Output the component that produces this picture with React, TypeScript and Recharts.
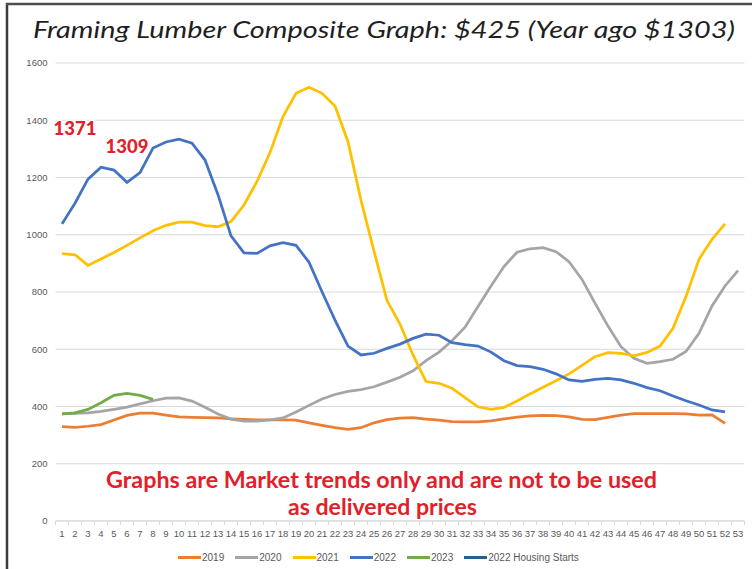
import { LineChart, Line, XAxis, YAxis, CartesianGrid, Legend, ReferenceDot } from 'recharts'

const weeks = [
  1, 2, 3, 4, 5, 6, 7, 8, 9, 10, 11, 12, 13, 14, 15, 16, 17, 18, 19, 20, 21, 22, 23, 24, 25, 26,
  27, 28, 29, 30, 31, 32, 33, 34, 35, 36, 37, 38, 39, 40, 41, 42, 43, 44, 45, 46, 47, 48, 49, 50,
  51, 52, 53,
]

const yTicks = [0, 200, 400, 600, 800, 1000, 1200, 1400, 1600]

const prices2019 = [
  330, 327, 331, 337, 353, 369, 377, 377, 370, 364, 362, 361, 360, 357, 355, 353, 353, 353, 352,
  343, 334, 326, 320, 326, 343, 354, 359, 361, 356, 352, 347, 346, 346, 350, 357, 363, 367, 369,
  368, 364, 355, 354, 362, 370, 375, 375, 375, 375, 374, 370, 371, 341,
]

const prices2020 = [
  374, 376, 378, 383, 390, 398, 409, 420, 429, 430, 419, 397, 374, 356, 349, 349, 353, 360, 381,
  404, 426, 442, 453, 459, 469, 485, 502, 525, 560, 590, 630, 677, 749, 821, 889, 939, 951, 955,
  941, 906, 844, 761, 681, 609, 568, 551, 557, 565, 592, 656, 751, 821, 875,
]

const prices2021 = [
  934, 930, 893, 915, 938, 963, 989, 1014, 1033, 1044, 1044, 1032, 1028, 1046, 1104, 1186, 1287,
  1413, 1494, 1515, 1494, 1450, 1325, 1120, 943, 770, 688, 580, 487, 481, 464, 431, 399, 390, 397,
  419, 444, 467, 490, 514, 544, 574, 588, 586, 577, 589, 611, 673, 784, 914, 984, 1038,
]

const prices2022 = [
  1038, 1110, 1194, 1236, 1226, 1183, 1217, 1303, 1324, 1334, 1320, 1261, 1140, 996, 937, 935, 961,
  972, 963, 904, 801, 702, 611, 580, 586, 603, 618, 638, 653, 649, 623, 616, 611, 590, 560, 543,
  539, 530, 514, 493, 488, 495, 498, 493, 481, 466, 455, 437, 420, 405, 388, 381,
]

const prices2023 = [374, 378, 390, 413, 439, 446, 439, 425]

const housingStarts2022: number[] = []

const callouts = [
  { week: 2, value: 1371, label: '1371' },
  { week: 6, value: 1309, label: '1309' },
]

const RED = '#E3202A'
const TICK_FONT = "'Liberation Sans', Arial, sans-serif"

// tick positions: every week plus the category boundaries between them
const axisTicks = [...weeks.map(w => w - 0.5), weeks[weeks.length - 1] + 0.5, ...weeks]

const chartData = weeks.map((week, i) => ({
  week,
  y2019: prices2019[i] ?? null,
  y2020: prices2020[i] ?? null,
  y2021: prices2021[i] ?? null,
  y2022: prices2022[i] ?? null,
  y2023: prices2023[i] ?? null,
  starts2022: housingStarts2022[i] ?? null,
}))

const series = [
  { key: 'y2019', name: '2019', color: '#ED7D31' },
  { key: 'y2020', name: '2020', color: '#A5A5A5' },
  { key: 'y2021', name: '2021', color: '#FFC000' },
  { key: 'y2022', name: '2022', color: '#4472C4' },
  { key: 'y2023', name: '2023', color: '#70AD47' },
  { key: 'starts2022', name: '2022 Housing Starts', color: '#255E91' },
]

function WeekTick(props: any) {
  const { x, y, payload } = props
  if (!Number.isInteger(payload.value)) {
    return <line x1={x} x2={x} y1={y} y2={y + 4} stroke="#D9D9D9" />
  }
  return (
    <text x={x} y={y + 16} textAnchor="middle" fontSize={9.5} fill="#595959" fontFamily={TICK_FONT}>
      {payload.value}
    </text>
  )
}

// legend keeps the series order (recharts sorts the payload by name otherwise)
function LegendContent() {
  return (
    <div style={{ display: 'flex', alignItems: 'center', paddingLeft: 178, height: 20 }}>
      {series.map(s => (
        <div key={s.key} style={{ display: 'flex', alignItems: 'center', marginRight: 11 }}>
          <span style={{ width: 23, height: 3, background: s.color, marginRight: 1 }} />
          <span style={{ fontFamily: TICK_FONT, fontSize: 10, color: '#595959' }}>{s.name}</span>
        </div>
      ))}
    </div>
  )
}

function CalloutLabel(props: any) {
  const { viewBox, value } = props
  const cx = viewBox.x + viewBox.width / 2
  const cy = viewBox.y + viewBox.height / 2
  return (
    <text
      x={cx}
      y={cy}
      dy={6.5}
      textAnchor="middle"
      fontFamily="Lato, 'Open Sans', sans-serif"
      fontWeight={900}
      fontSize={18.5}
      fill={RED}
      stroke="#fff"
      strokeWidth={3}
      paintOrder="stroke"
    >
      {value}
    </text>
  )
}

export default function App() {
  return (
    <div style={{ position: 'absolute', left: 0, top: 0, width: 752, height: 569, background: '#fff' }}>
      <LineChart
        width={752}
        height={569}
        data={chartData}
        margin={{ top: 63, right: 7.5, bottom: 0, left: 0 }}
      >
        <CartesianGrid vertical={false} stroke="#D9D9D9" />
        <XAxis
          dataKey="week"
          type="number"
          domain={[0.5, 53.5]}
          ticks={axisTicks}
          interval={0}
          tick={<WeekTick />}
          tickLine={false}
          tickSize={0}
          tickMargin={0}
          axisLine={{ stroke: '#D9D9D9' }}
          height={28}
        />
        <YAxis
          domain={[0, 1600]}
          ticks={yTicks}
          width={55.5}
          tickLine={false}
          axisLine={false}
          tick={{ fontSize: 9.5, fill: '#595959', fontFamily: TICK_FONT }}
        />
        <Legend
          verticalAlign="bottom"
          content={<LegendContent />}
          wrapperStyle={{ left: 0, bottom: 2, width: 752, height: 20 }}
        />
        {series.map(s => (
          <Line
            key={s.key}
            type="linear"
            dataKey={s.key}
            name={s.name}
            stroke={s.color}
            strokeWidth={2.75}
            dot={false}
            activeDot={false}
            isAnimationActive={false}
            legendType="line"
          />
        ))}
        {callouts.map(c => (
          <ReferenceDot
            key={c.label}
            x={c.week}
            y={c.value}
            r={1}
            fill="none"
            stroke="none"
            ifOverflow="visible"
            label={<CalloutLabel value={c.label} />}
          />
        ))}
      </LineChart>
      <svg
        width={752}
        height={569}
        style={{ position: 'absolute', left: 0, top: 0, pointerEvents: 'none' }}
      >
        <line x1={7} x2={7} y1={3} y2={569} stroke="#3b3b3b" strokeWidth={2.5} />
        <line x1={6} x2={752} y1={4} y2={4} stroke="#4d4d4d" strokeWidth={2.5} />
        <text
          x={384}
          y={38}
          textAnchor="middle"
          fontFamily="Lato, 'Open Sans', sans-serif"
          fontStyle="italic"
          fontSize={24}
          fill="#1f1f1f"
          textLength={702}
          lengthAdjust="spacingAndGlyphs"
        >
          Framing Lumber Composite Graph: $425 (Year ago $1303)
        </text>
        <text
          x={381.5}
          y={488}
          textAnchor="middle"
          fontFamily="Lato, 'Open Sans', sans-serif"
          fontWeight={700}
          fontSize={22}
          fill={RED}
          textLength={551}
          lengthAdjust="spacingAndGlyphs"
        >
          Graphs are Market trends only and are not to be used
        </text>
        <text
          x={382.5}
          y={515}
          textAnchor="middle"
          fontFamily="Lato, 'Open Sans', sans-serif"
          fontWeight={700}
          fontSize={22}
          fill={RED}
          textLength={189}
          lengthAdjust="spacingAndGlyphs"
        >
          as delivered prices
        </text>
      </svg>
    </div>
  )
}
